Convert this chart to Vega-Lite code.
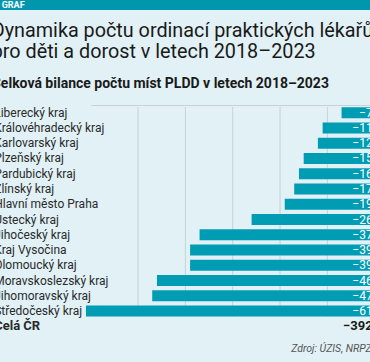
{
  "$schema": "https://vega.github.io/schema/vega-lite/v6.json",
  "background": "#e1f1f6",
  "padding": {"left": -28.3, "right": -27.7, "top": 0, "bottom": 10},
  "config": {
    "font": "Liberation Sans Narrow, Roboto",
    "view": {"stroke": null},
    "concat": {"spacing": 11}
  },
  "datasets": {
    "rows": [
      {"region": "Liberecký kraj", "value": -7, "type": "kraj"},
      {"region": "Královéhradecký kraj", "value": -11, "type": "kraj"},
      {"region": "Karlovarský kraj", "value": -12, "type": "kraj"},
      {"region": "Plzeňský kraj", "value": -15, "type": "kraj"},
      {"region": "Pardubický kraj", "value": -16, "type": "kraj"},
      {"region": "Zlínský kraj", "value": -17, "type": "kraj"},
      {"region": "Hlavní město Praha", "value": -19, "type": "kraj"},
      {"region": "Ústecký kraj", "value": -26, "type": "kraj"},
      {"region": "Jihočeský kraj", "value": -37, "type": "kraj"},
      {"region": "Kraj Vysočina", "value": -39, "type": "kraj"},
      {"region": "Olomoucký kraj", "value": -39, "type": "kraj"},
      {"region": "Moravskoslezský kraj", "value": -46, "type": "kraj"},
      {"region": "Jihomoravský kraj", "value": -47, "type": "kraj"},
      {"region": "Středočeský kraj", "value": -61, "type": "kraj"},
      {"region": "Celá ČR", "value": -392, "type": "total"}
    ]
  },
  "vconcat": [
    {
      "width": 284,
      "height": 10,
      "data": {"values": [{"label": "GRAF"}]},
      "layer": [
        {
          "mark": {"type": "rect", "color": "#0097ae"},
          "encoding": {
            "x": {"datum": -85, "type": "quantitative", "scale": {"domain": [-60, 0], "nice": false, "zero": false}, "axis": null},
            "x2": {"datum": 5}
          }
        },
        {
          "mark": {"type": "text", "color": "white", "fontWeight": "bold", "fontSize": 9, "align": "left", "baseline": "middle"},
          "encoding": {
            "x": {"datum": -78.8, "type": "quantitative"},
            "text": {"field": "label"}
          }
        }
      ]
    },
    {
      "width": 284,
      "height": 229,
      "data": {"name": "rows"},
      "title": {
        "text": ["Dynamika počtu ordinací praktických lékařů", "pro děti a dorost v letech 2018–2023"],
        "subtitle": "Celková bilance počtu míst PLDD v letech 2018–2023",
        "anchor": "start",
        "frame": "bounds",
        "dx": -2,
        "fontSize": 19.8,
        "lineHeight": 21,
        "fontWeight": "normal",
        "color": "#1a1a1a",
        "subtitleFontSize": 14,
        "subtitleFontWeight": "bold",
        "subtitleColor": "#1a1a1a",
        "subtitlePadding": 15,
        "offset": 14
      },
      "resolve": {"axis": {"x": "independent"}},
      "layer": [
        {
          "data": {"values": [{"g": -10}, {"g": -20}, {"g": -30}, {"g": -40}, {"g": -50}]},
          "mark": {"type": "rule", "color": "#c6d2d7", "strokeWidth": 1},
          "encoding": {
            "x": {"field": "g", "type": "quantitative", "scale": {"domain": [-60, 0], "nice": false},
                  "axis": {"orient": "top", "labels": false, "ticks": false, "grid": false, "domain": true, "domainColor": "#c6d2d7", "title": null}},
            "y": {"datum": "Liberecký kraj", "type": "nominal", "bandPosition": 0},
            "y2": {"datum": "Středočeský kraj", "bandPosition": 1}
          }
        },
        {
          "transform": [{"filter": "datum.type === 'kraj'"}],
          "mark": {"type": "bar", "color": "#009cb4"},
          "encoding": {
            "y": {
              "field": "region", "type": "nominal", "sort": null,
              "scale": {
                "domain": ["Liberecký kraj", "Královéhradecký kraj", "Karlovarský kraj", "Plzeňský kraj", "Pardubický kraj", "Zlínský kraj", "Hlavní město Praha", "Ústecký kraj", "Jihočeský kraj", "Kraj Vysočina", "Olomoucký kraj", "Moravskoslezský kraj", "Jihomoravský kraj", "Středočeský kraj", "Celá ČR"],
                "paddingInner": 0.28, "paddingOuter": 0.14
              },
              "axis": {
                "orient": "left", "title": null, "domain": false, "ticks": false,
                "labelAlign": "left", "labelPadding": 97, "labelLimit": 200,
                "labelColor": "#2a2a2a",
                "labelFontSize": {"condition": {"test": "datum.value === 'Celá ČR'", "value": 13}, "value": 12},
                "labelFontWeight": {"condition": {"test": "datum.value === 'Celá ČR'", "value": "bold"}, "value": "normal"}
              }
            },
            "x": {
              "field": "value", "type": "quantitative", "scale": {"domain": [-60, 0], "nice": false},
              "axis": {"orient": "bottom", "labels": false, "ticks": false, "domain": false, "grid": false,
                       "title": "Zdroj: ÚZIS, NRPZS", "titleAlign": "left", "titleX": 200,
                       "titleFontStyle": "italic",
                       "titleFontWeight": "normal", "titleFontSize": 10.5, "titleColor": "#555555", "titlePadding": 9}
            }
          }
        },
        {
          "transform": [{"filter": "datum.type === 'kraj'"}],
          "mark": {"type": "text", "color": "white", "fontSize": 12, "align": "right", "baseline": "middle", "dx": -2},
          "encoding": {
            "y": {"field": "region", "type": "nominal", "sort": null},
            "x": {"datum": 0, "type": "quantitative", "axis": null},
            "text": {"field": "value", "type": "quantitative", "format": "d"}
          }
        },
        {
          "transform": [{"filter": "datum.type === 'total'"}],
          "mark": {"type": "text", "color": "#1a1a1a", "fontSize": 13, "fontWeight": "bold", "align": "right", "baseline": "middle", "dx": -2},
          "encoding": {
            "y": {"field": "region", "type": "nominal", "sort": null},
            "x": {"datum": 0, "type": "quantitative", "axis": null},
            "text": {"field": "value", "type": "quantitative", "format": "d"}
          }
        }
      ]
    }
  ]
}
